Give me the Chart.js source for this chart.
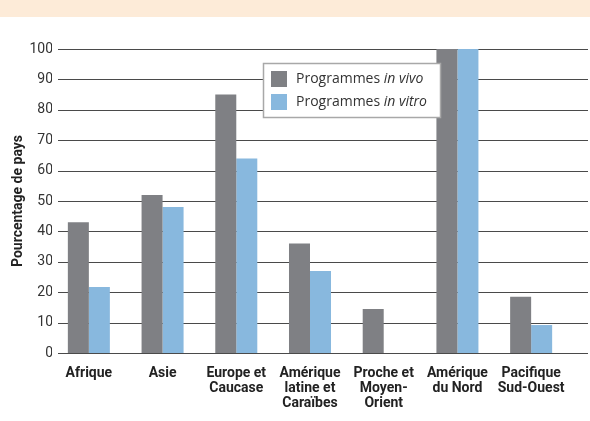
<!DOCTYPE html>
<html>
<head>
<meta charset="utf-8">
<script src="https://cdn.jsdelivr.net/npm/chart.js@4/dist/chart.umd.min.js"></script>
<style>
  html, body { margin: 0; padding: 0; background: #ffffff; }
  #wrap { position: relative; width: 590px; height: 421px; overflow: hidden; }
  #band { position: absolute; left: 0; top: 0; width: 590px; height: 17px; background: #fdebd8; }
  canvas { position: absolute; left: 0; top: 0; }
</style>
</head>
<body>
<div id="wrap">
  <div id="band"></div>
  <canvas id="c" width="590" height="421"></canvas>
</div>
<script>
const categories = [
  ["Afrique"],
  ["Asie"],
  ["Europe et", "Caucase"],
  ["Amérique", "latine et", "Caraïbes"],
  ["Proche et", "Moyen-", "Orient"],
  ["Amérique", "du Nord"],
  ["Pacifique", "Sud-Ouest"]
];
const seriesNames = ["Programmes in vivo", "Programmes in vitro"];
const legendParts = [["Programmes ", "in vivo"], ["Programmes ", "in vitro"]];
const inVivo = [43, 52, 85, 36, 14.5, 100, 18.5];
const inVitro = [21.7, 48, 64, 27, 0, 100, 9.2];
const yTicks = [0, 10, 20, 30, 40, 50, 60, 70, 80, 90, 100];
const yTitle = "Pourcentage de pays";

const COND = "Roboto, 'Liberation Sans', sans-serif";
const REG = "'Open Sans', 'Noto Sans', sans-serif";

const gridPlugin = {
  id: 'extGrid',
  beforeDatasetsDraw(chart) {
    const { ctx } = chart;
    const y = chart.scales.y;
    ctx.save();
    ctx.strokeStyle = '#4a4a4a';
    ctx.lineWidth = 1;
    yTicks.forEach(v => {
      const py = Math.round(y.getPixelForValue(v)) + 0.5;
      ctx.beginPath();
      ctx.moveTo(58, py);
      ctx.lineTo(588, py);
      ctx.stroke();
    });
    ctx.restore();
  }
};

const legendPlugin = {
  id: 'boxLegend',
  afterDraw(chart) {
    const { ctx } = chart;
    const x0 = 263, y0 = 63, w = 178, h = 55;
    ctx.save();
    ctx.fillStyle = '#ffffff';
    ctx.fillRect(x0, y0, w, h);
    ctx.strokeStyle = '#a8a8a8';
    ctx.lineWidth = 1.5;
    ctx.strokeRect(x0 + 0.5, y0 + 0.5, w - 1, h - 1);
    chart.data.datasets.forEach((ds, i) => {
      const sy = 71 + i * 23;
      ctx.fillStyle = ds.backgroundColor;
      ctx.fillRect(x0 + 8, sy, 16, 16);
      ctx.fillStyle = '#333333';
      ctx.textBaseline = 'middle';
      ctx.textAlign = 'left';
      let tx = x0 + 33;
      ctx.font = "14px " + REG;
      ctx.fillText(legendParts[i][0], tx, sy + 8);
      tx += ctx.measureText(legendParts[i][0]).width;
      ctx.font = "italic 14px " + REG;
      ctx.fillText(legendParts[i][1], tx, sy + 8);
    });
    ctx.restore();
  }
};

new Chart(document.getElementById('c'), {
  type: 'bar',
  data: {
    labels: categories,
    datasets: [
      { label: seriesNames[0], data: inVivo, backgroundColor: '#7f8084' },
      { label: seriesNames[1], data: inVitro, backgroundColor: '#88b8de' }
    ]
  },
  options: {
    responsive: false,
    animation: false,
    devicePixelRatio: 1,
    layout: { padding: { top: 49, right: 22, left: 0, bottom: 0 } },
    plugins: {
      legend: { display: false },
      tooltip: { enabled: false }
    },
    datasets: { bar: { categoryPercentage: 0.57, barPercentage: 1.0 } },
    scales: {
      x: {
        grid: { display: false, drawTicks: false },
        border: { display: false },
        ticks: {
          padding: 13,
          maxRotation: 0,
          autoSkip: false,
          color: '#222222',
          font: { family: COND, size: 14, weight: 'bold', lineHeight: 1.08 }
        },
        afterFit(s) { s.height = 68; }
      },
      y: {
        min: 0, max: 100,
        grid: { display: false, drawTicks: false },
        border: { display: false },
        afterBuildTicks(s) { s.ticks = yTicks.map(v => ({ value: v })); },
        ticks: {
          padding: -1,
          color: '#333333',
          font: { family: COND, size: 14 }
        },
        title: {
          display: true,
          text: yTitle,
          color: '#222222',
          padding: { top: 10, bottom: 0 },
          font: { family: COND, size: 14, weight: 'bold' }
        },
        afterFit(s) { s.width = 52; }
      }
    }
  },
  plugins: [gridPlugin, legendPlugin]
});
</script>
</body>
</html>
